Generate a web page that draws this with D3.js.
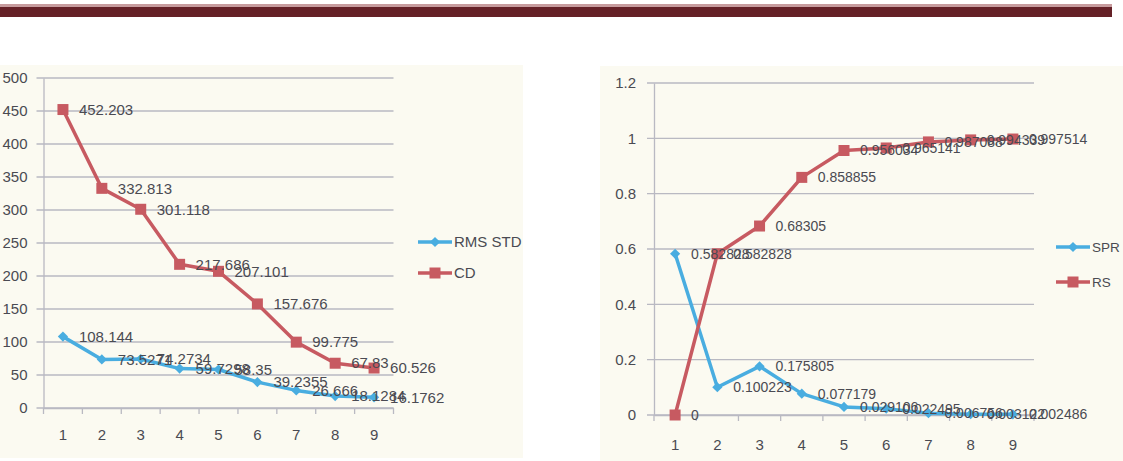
<!DOCTYPE html>
<html>
<head>
<meta charset="utf-8">
<script src="https://cdn.jsdelivr.net/npm/d3@7"></script>
<style>
    body { margin: 0; background: #ffffff; }
    svg { display: block; font-family: "Liberation Sans", Arial, sans-serif; }
</style>
</head>
<body>
<div id="container"></div>
<script>
// two scanned excel line charts side by side

const categories = [1, 2, 3, 4, 5, 6, 7, 8, 9]
const rmsStd = [108.144, 73.5271, 74.2734, 59.7298, 58.35, 39.2355, 26.666, 18.1284, 16.1762]
const cd = [452.203, 332.813, 301.118, 217.686, 207.101, 157.676, 99.775, 67.83, 60.526]
const spr = [0.582828, 0.100223, 0.175805, 0.077179, 0.029106, 0.022495, 0.006756, 0.003122, 0.002486]
const rs = [0, 0.582828, 0.68305, 0.858855, 0.956034, 0.965141, 0.987088, 0.994339, 0.997514]
const leftTicks = [0, 50, 100, 150, 200, 250, 300, 350, 400, 450, 500]
const rightTicks = [0, 0.2, 0.4, 0.6, 0.8, 1, 1.2]
const rightTickLabels = ["0", "0.2", "0.4", "0.6", "0.8", "1", "1.2"]

const w = 1123
const h = 461
const blue = "#49ade0"
const red = "#c75a61"
const textColor = "#4a4a52"
const gridColor = "#b9b9c2"

const svg = d3.select("#container")
    .append("svg")
    .attr("width", w)
    .attr("height", h)

// header rule of the scanned page
svg.append("rect")
    .attr("x", 0).attr("y", 4)
    .attr("width", 1112).attr("height", 3)
    .attr("fill", "#c79c9e")
svg.append("rect")
    .attr("x", 0).attr("y", 7)
    .attr("width", 1112).attr("height", 10)
    .attr("fill", "#652127")

function drawChart(opts) {
    const g = svg.append("g")

    g.append("rect")
        .attr("x", opts.bg[0]).attr("y", opts.bg[1])
        .attr("width", opts.bg[2]).attr("height", opts.bg[3])
        .attr("fill", "#fbfaf1")

    const xScale = d3.scaleBand()
        .domain(categories)
        .range(opts.xRange)
    const yScale = d3.scaleLinear()
        .domain(opts.yDomain)
        .range(opts.yRange)
    const cx = (i) => xScale(categories[i]) + xScale.bandwidth() / 2

    // gridlines, drawn out past the axis as outside ticks
    g.selectAll(null)
        .data(opts.ticks)
        .enter()
        .append("line")
        .attr("x1", opts.xRange[0] - 7)
        .attr("x2", opts.xRange[1])
        .attr("y1", (d) => yScale(d))
        .attr("y2", (d) => yScale(d))
        .attr("stroke", gridColor)
        .attr("stroke-width", 1.3)

    const yAxis = d3.axisLeft(yScale)
        .tickValues(opts.ticks)
        .tickFormat((d, i) => opts.tickLabels[i])
        .tickSize(0)
        .tickPadding(opts.yPad)
    const ya = g.append("g")
        .attr("transform", `translate(${opts.xRange[0]}, 0)`)
        .call(yAxis)
    ya.select(".domain").attr("stroke", gridColor).attr("stroke-width", 1.3)
    ya.selectAll("text")
        .attr("fill", textColor)
        .style("font-size", "15px")

    const xAxis = d3.axisBottom(xScale)
        .tickSize(0)
        .tickPadding(opts.xPad)
    const xa = g.append("g")
        .attr("transform", `translate(0, ${opts.yRange[0]})`)
        .call(xAxis)
    xa.select(".domain").attr("stroke", gridColor).attr("stroke-width", 1.3)
    xa.selectAll("text")
        .attr("fill", textColor)
        .style("font-size", "15px")

    // category boundary ticks
    g.selectAll(null)
        .data(categories.concat([null]))
        .enter()
        .append("line")
        .attr("x1", (d, i) => opts.xRange[0] + i * xScale.step())
        .attr("x2", (d, i) => opts.xRange[0] + i * xScale.step())
        .attr("y1", opts.yRange[0])
        .attr("y2", opts.yRange[0] + 6)
        .attr("stroke", gridColor)
        .attr("stroke-width", 1.3)

    const line = d3.line()
        .x((d, i) => cx(i))
        .y((d) => yScale(d))

    opts.series.forEach((s) => {
        g.append("path")
            .datum(s.values)
            .attr("d", line)
            .attr("fill", "none")
            .attr("stroke", s.color)
            .attr("stroke-width", 3.5)
            .attr("stroke-linejoin", "round")
        g.selectAll(null)
            .data(s.values)
            .enter()
            .append("path")
            .attr("d", d3.symbol().type(d3.symbolSquare).size(s.diamond ? 52 : 121))
            .attr("transform", (d, i) => `translate(${cx(i)}, ${yScale(d)})${s.diamond ? " rotate(45)" : ""}`)
            .attr("fill", s.color)
    })

    // data labels overlap each other in the original too
    opts.series.forEach((s) => {
        g.selectAll(null)
            .data(s.values)
            .enter()
            .append("text")
            .attr("x", (d, i) => cx(i) + 16)
            .attr("y", (d) => yScale(d))
            .attr("dy", "0.35em")
            .attr("fill", textColor)
            .style("font-size", opts.labelSize)
            .text((d) => String(d))
    })

    // legend
    opts.series.forEach((s, i) => {
        const ly = opts.legendY[i]
        g.append("line")
            .attr("x1", opts.legendX).attr("x2", opts.legendX + 34)
            .attr("y1", ly).attr("y2", ly)
            .attr("stroke", s.color)
            .attr("stroke-width", 3.5)
        g.append("path")
            .attr("d", d3.symbol().type(d3.symbolSquare).size(s.diamond ? 52 : 121))
            .attr("transform", `translate(${opts.legendX + 17}, ${ly})${s.diamond ? " rotate(45)" : ""}`)
            .attr("fill", s.color)
        g.append("text")
            .attr("x", opts.legendX + 36)
            .attr("y", ly)
            .attr("dy", "0.35em")
            .attr("fill", textColor)
            .style("font-size", opts.legendSize)
            .text(s.name)
    })
}

drawChart({
    bg: [0, 65, 523, 393],
    xRange: [43.5, 393.5],
    yDomain: [0, 500],
    yRange: [408, 78],
    ticks: leftTicks,
    tickLabels: leftTicks.map(String),
    yPad: 16,
    xPad: 21,
    labelSize: "15px",
    legendX: 418,
    legendSize: "15px",
    legendY: [242, 273],
    series: [
        { name: "RMS STD", values: rmsStd, color: blue, diamond: true },
        { name: "CD", values: cd, color: red, diamond: false }
    ]
})

drawChart({
    bg: [600, 66, 523, 395],
    xRange: [654, 1034],
    yDomain: [0, 1.2],
    yRange: [415, 83],
    ticks: rightTicks,
    tickLabels: rightTickLabels,
    yPad: 18,
    xPad: 24,
    labelSize: "14px",
    legendX: 1056,
    legendSize: "13.5px",
    legendY: [247, 282],
    series: [
        { name: "SPR", values: spr, color: blue, diamond: true },
        { name: "RS", values: rs, color: red, diamond: false }
    ]
})
</script>
</body>
</html>
